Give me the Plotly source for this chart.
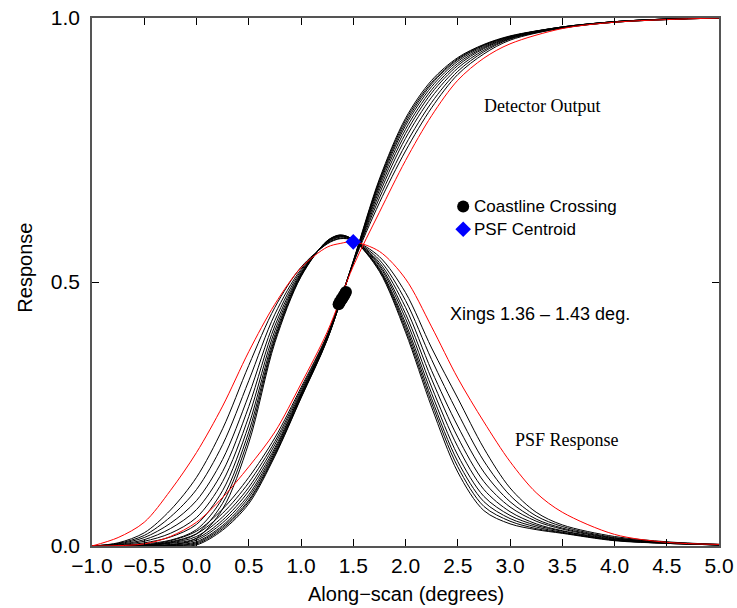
import plotly.graph_objects as go

# ---------------- data ----------------
x_psf = [-1.0, -0.75, -0.5, -0.25, 0.0, 0.25, 0.5, 0.75, 1.0, 1.25, 1.375, 1.5,
         1.75, 2.0, 2.25, 2.5, 2.75, 3.0, 3.25, 3.5, 4.0, 4.5, 5.0]
psf_red = [0.0, 0.016, 0.045, 0.105, 0.177, 0.265, 0.368, 0.458, 0.527, 0.566, 0.573, 0.576,
           0.558, 0.506, 0.415, 0.318, 0.235, 0.16, 0.101, 0.064, 0.022, 0.007, 0.003]
psf_black_1 = [0, 0.006, 0.025, 0.068, 0.13, 0.222, 0.342, 0.452, 0.528, 0.572, 0.582, 0.579,
               0.548, 0.48, 0.375, 0.28, 0.185, 0.11, 0.064, 0.04, 0.018, 0.008, 0.003]
psf_black_2 = [0, 0.005, 0.020, 0.055, 0.107, 0.192, 0.313, 0.439, 0.524, 0.573, 0.583, 0.579,
               0.542, 0.465, 0.353, 0.252, 0.161, 0.096, 0.057, 0.037, 0.016, 0.007, 0.003]
psf_black_3 = [0, 0.004, 0.016, 0.043, 0.086, 0.164, 0.286, 0.427, 0.521, 0.574, 0.585, 0.579,
               0.537, 0.452, 0.332, 0.227, 0.140, 0.084, 0.051, 0.034, 0.015, 0.007, 0.003]
psf_black_4 = [0, 0.003, 0.012, 0.033, 0.069, 0.141, 0.264, 0.417, 0.518, 0.575, 0.586, 0.580,
               0.533, 0.440, 0.316, 0.206, 0.122, 0.074, 0.047, 0.032, 0.014, 0.006, 0.002]
psf_black_5 = [0, 0.002, 0.009, 0.024, 0.054, 0.122, 0.245, 0.408, 0.516, 0.576, 0.587, 0.580,
               0.530, 0.431, 0.301, 0.188, 0.107, 0.065, 0.042, 0.029, 0.013, 0.006, 0.002]
psf_black_6 = [0, 0.001, 0.006, 0.017, 0.041, 0.105, 0.229, 0.400, 0.514, 0.577, 0.588, 0.580,
               0.526, 0.422, 0.289, 0.172, 0.094, 0.058, 0.039, 0.028, 0.012, 0.006, 0.002]
psf_black_7 = [0, 0.001, 0.004, 0.011, 0.031, 0.091, 0.216, 0.394, 0.513, 0.577, 0.588, 0.580,
               0.524, 0.416, 0.279, 0.160, 0.084, 0.052, 0.036, 0.026, 0.011, 0.005, 0.002]
psf_black_8 = [0, 0.0, 0.002, 0.007, 0.023, 0.081, 0.205, 0.390, 0.511, 0.578, 0.589, 0.580,
               0.522, 0.410, 0.271, 0.150, 0.075, 0.047, 0.033, 0.025, 0.011, 0.005, 0.002]
psf_black_9 = [0, 0.0, 0.0, 0.002, 0.015, 0.07, 0.195, 0.385, 0.51, 0.578, 0.589, 0.58,
               0.52, 0.405, 0.263, 0.14, 0.067, 0.042, 0.031, 0.024, 0.010, 0.005, 0.002]

x_det = [-1.0, -0.5, -0.25, 0.0, 0.25, 0.5, 0.75, 1.0, 1.25, 1.5, 1.75, 2.0, 2.25, 2.5,
         2.75, 3.0, 3.5, 4.0, 4.5, 5.0]
det_red = [0, 0.004, 0.018, 0.045, 0.092, 0.15, 0.216, 0.307, 0.405, 0.53, 0.632, 0.73,
           0.815, 0.882, 0.924, 0.951, 0.98, 0.992, 0.997, 1.0]
det_black_1 = [0, 0.002, 0.010, 0.028, 0.07, 0.13, 0.205, 0.30, 0.40, 0.535, 0.65, 0.748,
               0.83, 0.893, 0.932, 0.958, 0.981, 0.992, 0.997, 1.0]
det_black_2 = [0, 0.002, 0.008, 0.023, 0.062, 0.120, 0.198, 0.296, 0.398, 0.536, 0.659, 0.760,
               0.840, 0.899, 0.936, 0.960, 0.981, 0.992, 0.997, 1.0]
det_black_3 = [0, 0.001, 0.006, 0.018, 0.055, 0.111, 0.192, 0.292, 0.396, 0.536, 0.667, 0.772,
               0.850, 0.905, 0.939, 0.961, 0.982, 0.992, 0.997, 1.0]
det_black_4 = [0, 0.001, 0.005, 0.014, 0.049, 0.104, 0.186, 0.289, 0.395, 0.537, 0.674, 0.781,
               0.858, 0.910, 0.942, 0.962, 0.982, 0.993, 0.998, 1.0]
det_black_5 = [0, 0.001, 0.003, 0.011, 0.044, 0.097, 0.182, 0.287, 0.393, 0.537, 0.680, 0.789,
               0.864, 0.914, 0.944, 0.963, 0.982, 0.993, 0.998, 1.0]
det_black_6 = [0, 0.0, 0.002, 0.008, 0.039, 0.092, 0.178, 0.285, 0.392, 0.538, 0.685, 0.796,
               0.870, 0.918, 0.946, 0.964, 0.983, 0.993, 0.998, 1.0]
det_black_7 = [0, 0.0, 0.001, 0.006, 0.036, 0.087, 0.175, 0.283, 0.391, 0.538, 0.689, 0.801,
               0.875, 0.921, 0.948, 0.965, 0.983, 0.993, 0.998, 1.0]
det_black_8 = [0, 0.0, 0.001, 0.004, 0.033, 0.084, 0.172, 0.281, 0.391, 0.539, 0.692, 0.806,
               0.878, 0.923, 0.949, 0.965, 0.983, 0.993, 0.998, 1.0]
det_black_9 = [0, 0.0, 0.0, 0.002, 0.03, 0.08, 0.17, 0.28, 0.39, 0.54, 0.695, 0.81,
               0.882, 0.925, 0.95, 0.966, 0.983, 0.993, 0.998, 1.0]

xing_x = [1.36, 1.369, 1.378, 1.387, 1.395, 1.404, 1.413, 1.421, 1.43]
xing_y = [0.458, 0.461, 0.464, 0.467, 0.469, 0.472, 0.475, 0.478, 0.481]
centroid_x = [1.50]
centroid_y = [0.576]

x_ticks = [-1.0, -0.5, 0.0, 0.5, 1.0, 1.5, 2.0, 2.5, 3.0, 3.5, 4.0, 4.5, 5.0]
y_ticks = [0.0, 0.5, 1.0]

psf_blacks = [psf_black_1, psf_black_2, psf_black_3, psf_black_4, psf_black_5,
              psf_black_6, psf_black_7, psf_black_8, psf_black_9]
det_blacks = [det_black_1, det_black_2, det_black_3, det_black_4, det_black_5,
              det_black_6, det_black_7, det_black_8, det_black_9]

SANS = "Liberation Sans, Arial, Helvetica, sans-serif"
SERIF = "Liberation Serif, Times New Roman, serif"

fig = go.Figure()

line_kw = dict(mode="lines", showlegend=False, hoverinfo="skip")
for ys in det_blacks:
    fig.add_trace(go.Scatter(x=x_det, y=ys, line=dict(color="black", width=1, shape="spline", smoothing=0.9), **line_kw))
for ys in psf_blacks:
    fig.add_trace(go.Scatter(x=x_psf, y=ys, line=dict(color="black", width=1, shape="spline", smoothing=0.9), **line_kw))
fig.add_trace(go.Scatter(x=x_det, y=det_red, line=dict(color="red", width=1, shape="spline", smoothing=0.9), **line_kw))
fig.add_trace(go.Scatter(x=x_psf, y=psf_red, line=dict(color="red", width=1, shape="spline", smoothing=0.9), **line_kw))

fig.add_trace(go.Scatter(x=xing_x, y=xing_y, mode="markers", showlegend=False,
                         marker=dict(symbol="circle", size=12, color="black")))
fig.add_trace(go.Scatter(x=centroid_x, y=centroid_y, mode="markers", showlegend=False,
                         marker=dict(symbol="diamond", size=12, color="blue")))

# legend glyphs on an overlay (paper-like) axis pair
fig.add_trace(go.Scatter(x=[0.592], y=[0.643], mode="markers", showlegend=False,
                         marker=dict(symbol="circle", size=12, color="black"),
                         xaxis="x2", yaxis="y2", cliponaxis=False))
fig.add_trace(go.Scatter(x=[0.592], y=[0.600], mode="markers", showlegend=False,
                         marker=dict(symbol="diamond", size=12, color="blue"),
                         xaxis="x2", yaxis="y2", cliponaxis=False))

axis_common = dict(showgrid=False, zeroline=False, showline=True, linecolor="#555555",
                   linewidth=1.5, mirror="ticks", ticks="inside", tickcolor="black",
                   ticklen=7, tickwidth=1, automargin=False,
                   tickfont=dict(family=SANS, size=21, color="black"))

fig.update_layout(
    width=737, height=608,
    margin=dict(l=92, r=18, t=18, b=62),
    paper_bgcolor="white", plot_bgcolor="white",
    xaxis=dict(range=[-1.0, 5.0], tickvals=x_ticks, tickformat=".1f", **axis_common),
    yaxis=dict(range=[0.0, 1.0], tickvals=y_ticks, tickformat=".1f", ticklabelstandoff=6, **axis_common),
    xaxis2=dict(range=[0, 1], overlaying="x", visible=False, anchor="y2", automargin=False),
    yaxis2=dict(range=[0, 1], overlaying="y", visible=False, anchor="x2", automargin=False),
    annotations=[
        dict(text="Along\u2212scan (degrees)", xref="paper", yref="paper", x=0.5, y=-0.091,
             showarrow=False, xanchor="center", yanchor="middle", font=dict(family=SANS, size=20, color="black")),
        dict(text="Response", xref="paper", yref="paper", x=-0.107, y=0.527, textangle=-90,
             showarrow=False, xanchor="center", yanchor="middle", font=dict(family=SANS, size=20, color="black")),
        dict(text="Detector Output", xref="paper", yref="paper", x=0.718, y=0.833,
             showarrow=False, xanchor="center", yanchor="middle", font=dict(family=SERIF, size=18, color="black")),
        dict(text="PSF Response", xref="paper", yref="paper", x=0.758, y=0.201,
             showarrow=False, xanchor="center", yanchor="middle", font=dict(family=SERIF, size=18, color="black")),
        dict(text="Xings 1.36 \u2013 1.43 deg.", xref="paper", yref="paper", x=0.568, y=0.439,
             showarrow=False, xanchor="left", yanchor="middle", font=dict(family=SANS, size=18, color="black")),
        dict(text="Coastline Crossing", xref="paper", yref="paper", x=0.606, y=0.643,
             showarrow=False, xanchor="left", yanchor="middle", font=dict(family=SANS, size=17, color="black")),
        dict(text="PSF Centroid", xref="paper", yref="paper", x=0.606, y=0.600,
             showarrow=False, xanchor="left", yanchor="middle", font=dict(family=SANS, size=17, color="black")),
    ],
)

fig.write_html("out.html", config={"displayModeBar": False},
               post_script="document.body.style.margin='0';document.body.style.overflow='hidden';")
